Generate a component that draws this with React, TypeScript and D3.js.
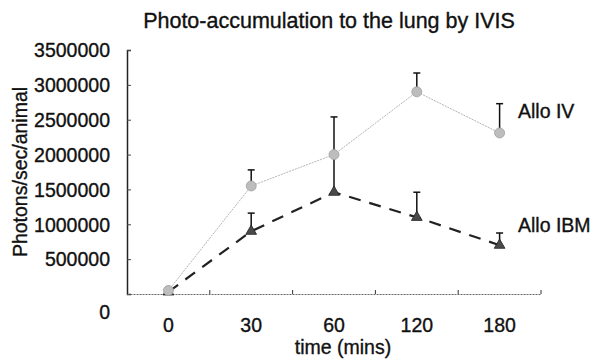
import { useEffect, useRef } from "react";
import * as d3 from "d3";

// time points (mins) as categories
const times = ["0", "30", "60", "120", "180"];

// Allo IV series (mean and upper error)
const ivMean = [50000, 1550000, 2000000, 2900000, 2310000];
const ivErr = [0, 230000, 540000, 270000, 420000];

// Allo IBM series
const ibmMean = [30000, 900000, 1460000, 1100000, 700000];
const ibmErr = [0, 260000, 540000, 360000, 175000];

const yTicks = [0, 500000, 1000000, 1500000, 2000000, 2500000, 3000000, 3500000];

const W = 594;
const H = 360;
const FONT = "'Liberation Sans', Arial, Helvetica, sans-serif";

export default function App() {
  const ref = useRef<SVGSVGElement>(null);

  useEffect(() => {
    if (!ref.current) return;
    const root = d3.select(ref.current);
    root.selectAll("*").remove();
    root.attr("width", W).attr("height", H);

    const left = 127;
    const right = 541;
    const top = 50;
    const bottom = 294;

    const x = d3.scaleBand<string>().domain(times).range([left, right]).padding(0);
    const y = d3.scaleLinear().domain([0, 3500000]).range([bottom, top]);
    const cx = (t: string) => (x(t) ?? 0) + x.bandwidth() / 2;

    // scanned text looks a bit heavier than plain regular
    const textStyle = (sel: d3.Selection<any, any, any, any>, size: string) =>
      sel
        .style("font-family", FONT)
        .style("font-size", size)
        .style("fill", "#111")
        .style("stroke", "#111")
        .style("stroke-width", "0.35px");

    root.append("rect").attr("width", W).attr("height", H).attr("fill", "#fff");

    // title
    textStyle(
      root
        .append("text")
        .attr("x", 329)
        .attr("y", 28)
        .attr("text-anchor", "middle")
        .text("Photo-accumulation to the lung by IVIS"),
      "21.5px"
    );

    // y axis
    const yAxis = d3
      .axisLeft(y)
      .tickValues(yTicks)
      .tickSize(-4)
      .tickPadding(17)
      .tickFormat((d) => String(d));
    const yg = root.append("g").attr("transform", `translate(${left},0)`).call(yAxis);
    yg.select(".domain").attr("stroke", "#222").attr("stroke-width", 1.5);
    yg.selectAll(".tick line").attr("stroke", "#444");
    textStyle(yg.selectAll("text"), "19.5px").attr("dy", (d) =>
      (d as number) === 0 ? "1.25em" : "0.35em"
    );

    // x axis
    const xAxis = d3.axisBottom(x).tickSize(0).tickPadding(24);
    const xg = root.append("g").attr("transform", `translate(0,${bottom})`).call(xAxis);
    xg.select(".domain")
      .attr("stroke", "#666")
      .attr("stroke-width", 1)
      .attr("stroke-dasharray", "2,1");
    textStyle(xg.selectAll("text"), "19.5px");

    // small ticks at band boundaries
    root
      .append("g")
      .selectAll("line")
      .data(times)
      .join("line")
      .attr("x1", (d) => (x(d) ?? 0) + x.bandwidth())
      .attr("x2", (d) => (x(d) ?? 0) + x.bandwidth())
      .attr("y1", bottom)
      .attr("y2", bottom - 4)
      .attr("stroke", "#333")
      .attr("stroke-width", 1);

    // axis titles
    textStyle(
      root
        .append("text")
        .attr("x", 343)
        .attr("y", 354)
        .attr("text-anchor", "middle")
        .text("time (mins)"),
      "19.5px"
    );

    textStyle(
      root
        .append("text")
        .attr("transform", "rotate(-90)")
        .attr("x", -172)
        .attr("y", 27)
        .attr("text-anchor", "middle")
        .text("Photons/sec/animal"),
      "19.5px"
    );

    const ivData = times.map((t, i) => ({ t, v: ivMean[i], e: ivErr[i] }));
    const ibmData = times.map((t, i) => ({ t, v: ibmMean[i], e: ibmErr[i] }));

    const line = d3
      .line<{ t: string; v: number }>()
      .x((d) => cx(d.t))
      .y((d) => y(d.v));

    // error bars (upper only)
    const drawErr = (data: { t: string; v: number; e: number }[]) => {
      const g = root.append("g");
      const withErr = data.filter((d) => d.e > 0);
      g.selectAll("line.bar")
        .data(withErr)
        .join("line")
        .attr("class", "bar")
        .attr("x1", (d) => cx(d.t))
        .attr("x2", (d) => cx(d.t))
        .attr("y1", (d) => y(d.v))
        .attr("y2", (d) => y(d.v + d.e))
        .attr("stroke", "#111")
        .attr("stroke-width", 1.5);
      g.selectAll("line.cap")
        .data(withErr)
        .join("line")
        .attr("class", "cap")
        .attr("x1", (d) => cx(d.t) - 3.5)
        .attr("x2", (d) => cx(d.t) + 3.5)
        .attr("y1", (d) => y(d.v + d.e))
        .attr("y2", (d) => y(d.v + d.e))
        .attr("stroke", "#111")
        .attr("stroke-width", 1.5);
    };

    drawErr(ibmData);
    drawErr(ivData);

    // Allo IBM: dashed dark line, triangles
    root
      .append("path")
      .datum(ibmData)
      .attr("d", line)
      .attr("fill", "none")
      .attr("stroke", "#222")
      .attr("stroke-width", 2.2)
      .attr("stroke-dasharray", "12,9");

    // Allo IV: thin light line, circles
    root
      .append("path")
      .datum(ivData)
      .attr("d", line)
      .attr("fill", "none")
      .attr("stroke", "#aaa")
      .attr("stroke-width", 0.9)
      .attr("stroke-dasharray", "2,1");

    root
      .append("g")
      .selectAll("path")
      .data(ibmData)
      .join("path")
      .attr("d", d3.symbol().type(d3.symbolTriangle).size(50)())
      .attr("transform", (d) => `translate(${cx(d.t)},${y(d.v)})`)
      .attr("fill", "#4a4a4a")
      .attr("stroke", "#222")
      .attr("stroke-width", 0.8);

    root
      .append("g")
      .selectAll("circle")
      .data(ivData)
      .join("circle")
      .attr("cx", (d) => cx(d.t))
      .attr("cy", (d) => y(d.v))
      .attr("r", 5)
      .attr("fill", "#bdbdbd")
      .attr("stroke", "#a0a0a0")
      .attr("stroke-width", 0.8);

    // series labels
    textStyle(root.append("text").attr("x", 518).attr("y", 118).text("Allo IV"), "19.5px");
    textStyle(root.append("text").attr("x", 518).attr("y", 232).text("Allo IBM"), "19.5px");
  }, []);

  return <svg ref={ref} style={{ position: "absolute", left: 0, top: 0 }} />;
}
